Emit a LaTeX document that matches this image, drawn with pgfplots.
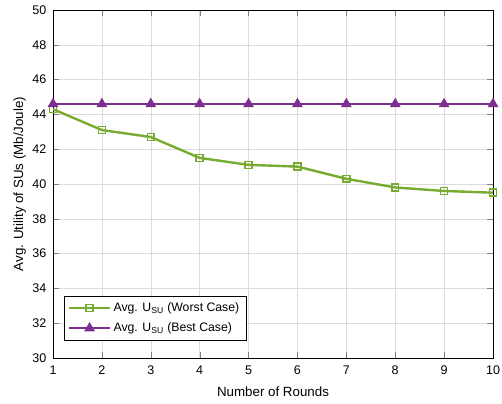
\documentclass[border=0pt]{standalone}
\usepackage{fontspec}
\setmainfont{Liberation Sans}
\usepackage{pgfplots}
\pgfplotsset{compat=1.18}
\definecolor{worstGreen}{HTML}{77AC30}
\definecolor{bestPurple}{HTML}{7E2F8E}
\definecolor{gridLine}{HTML}{DCDCDC}
\begin{document}
\begin{tikzpicture}
\begin{axis}[
  scale only axis, width=330pt, height=261pt,
  xmin=1, xmax=10, ymin=30, ymax=50,
  xtick={1,...,10}, ytick={30,32,...,50},
  tick align=inside, tick pos=both,
  grid=major, major grid style={gridLine},
  tick label style={font=\fontsize{9.4}{11}\selectfont},
  xticklabel style={yshift=-2.5pt},
  yticklabel style={xshift=-1.5pt},
  label style={font=\fontsize{10}{12}\selectfont},
  xlabel style={yshift=-2pt},
  ylabel style={yshift=-2pt},
  /pgf/number format/assume math mode=true,
  xlabel={Number of Rounds},
  ylabel={Avg. Utility of SUs (Mb/Joule)},
  legend style={at={(0.025,0.05)}, anchor=south west,
    font=\fontsize{9.2}{11}\selectfont,
    draw=black, fill=white, row sep=3pt, inner xsep=3pt, inner ysep=3pt},
  legend cell align=left,
  legend image code/.code={
    \draw[mark repeat=2,mark phase=2] plot coordinates {(0cm,0cm) (0.53cm,0cm) (1.06cm,0cm)};},
]
\addplot[color=worstGreen, line width=1.8pt, mark=square, mark size=2.6pt,
  mark options={line width=1.2pt}] coordinates {
  (1,44.3) (2,43.1) (3,42.7) (4,41.5) (5,41.1)
  (6,41.0) (7,40.3) (8,39.8) (9,39.6) (10,39.5)};
\addplot[color=bestPurple, line width=1.8pt, mark=triangle*, mark size=3.9pt,
  mark options={fill=bestPurple, line width=0.8pt}] coordinates {
  (1,44.6) (2,44.6) (3,44.6) (4,44.6) (5,44.6)
  (6,44.6) (7,44.6) (8,44.6) (9,44.6) (10,44.6)};
\legend{Avg. U\textsubscript{SU} (Worst Case), Avg. U\textsubscript{SU} (Best Case)}
\end{axis}
\pgfresetboundingbox
\path ([shift={(-39.75pt,-33.75pt)}]current axis.south west)
  rectangle ([shift={(6.75pt,7.5pt)}]current axis.north east);
\end{tikzpicture}
\end{document}
